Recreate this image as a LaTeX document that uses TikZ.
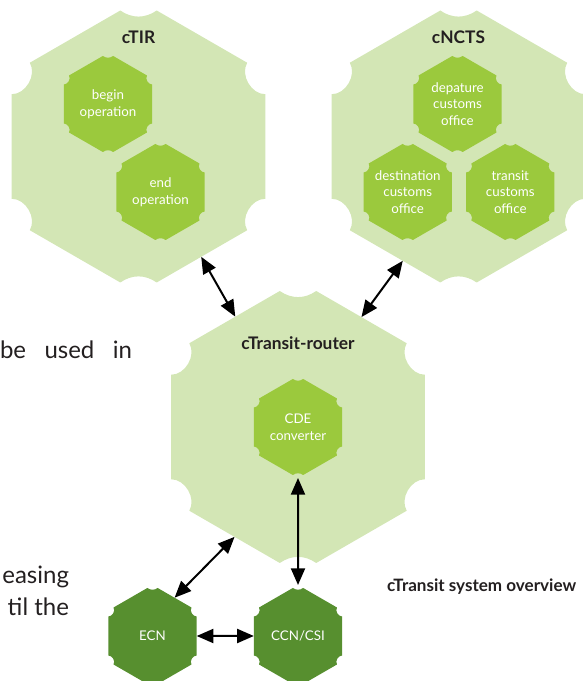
\documentclass[tikz,border=0pt]{standalone}
\usepackage{fontspec}
\setmainfont{Lato}
\usetikzlibrary{shapes.geometric, arrows.meta, calc}

\definecolor{hexlight}{HTML}{D3E6B5}
\definecolor{hexmid}{HTML}{9BC93D}
\definecolor{hexdark}{HTML}{578F2F}
\definecolor{ink}{HTML}{231F20}

\pgfdeclarelayer{background}
\pgfsetlayers{background,main}

% notched hexagon behind a node: node, radius, notch, colour, top/bottom bend
\newcommand{\hexfill}[5]{%
	\begin{pgfonlayer}{background}
		\fill[#4] ($(#1)+(30:#2)+(150:#3)$)
			\foreach \a/\b in {90/#5, 150/60, 210/60, 270/#5, 330/60, 30/60}
				{ -- ($(#1)+(\a:#2)+({\a-120}:#3)$) to[bend left = \b] ($(#1)+(\a:#2)+({\a+120}:#3)$) }
			-- cycle;
	\end{pgfonlayer}}

\begin{document}
\begin{tikzpicture}[x = 0.75pt, y = 0.75pt, every node/.style = {font = \fontsize{10}{12.5}\selectfont,
	text = white, align = center, inner sep = 0pt, outer sep = 0pt},
	bighex/.style = {regular polygon, regular polygon sides = 6, shape border rotate = 30, minimum size = 219.75pt},
	smallhex/.style = {regular polygon, regular polygon sides = 6, shape border rotate = 30, minimum size = 76.5pt},
	hextitle/.style = {font = \fontsize{13}{15}\selectfont\bfseries, text = ink},
	bodytext/.style = {font = \fontsize{18}{22}\selectfont, text = ink},
	link/.style = {{Triangle[length = 12.5pt, width = 10.5pt]}-{Triangle[length = 12.5pt, width = 10.5pt]}, line width = 1.5pt}]

	\useasboundingbox (0, 0) rectangle (582, 681);

		% systems
		\node (ctir)   at (138.5, 534.5) [bighex] {};
		\node (cncts)  at (458.5, 534.5) [bighex] {};
		\node (router) at (298,   254)   [bighex] {};

		\node (ctirtitle)   at (138.5, 644) [hextitle] {cTIR};
		\node (cnctstitle)  at (458.5, 644) [hextitle] {cNCTS};
		\node (routertitle) at (298, 337.5) [hextitle] {cTransit-router};

		% components
		\node (beginop) at (108,   577) [smallhex] {begin\\operation};
		\node (endop)   at (160.5, 489) [smallhex] {end\\operation};
		\node (depart)  at (457.5, 577) [smallhex] {depature\\customs\\office};
		\node (dest)    at (407.7, 489) [smallhex] {destination\\customs\\office};
		\node (transit) at (510.3, 489) [smallhex] {transit\\customs\\office};
		\node (cde)     at (298,   254) [smallhex] {CDE\\converter};
		\node (ecn)     at (152.5,  45) [smallhex] {ECN};
		\node (ccn)     at (298,    45) [smallhex] {CCN/CSI};

		\foreach \hex in {ctir, cncts, router}
			\hexfill{\hex}{146.5}{21}{hexlight}{35};
		\foreach \hex in {beginop, endop, depart, dest, transit, cde}
			\hexfill{\hex}{51}{6}{hexmid}{35};
		\foreach \hex in {ecn, ccn}
			\hexfill{\hex}{51}{6}{hexdark}{35};

		\foreach \from/\to in {ctir/router, cncts.244/router.60, ecn.60/router.240, ecn/ccn, cde/ccn}
			\draw[link] (\from) -- (\to);

		% text around the figure
		\node (caption) at (387, 94) [anchor = west, hextitle, font = \fontsize{12.8}{15}\selectfont\bfseries] {cTransit system overview};
		\node (bodya) at (0, 331) [anchor = west, bodytext] {\makebox[99pt][s]{be used in}};
		\node (bodyb) at (69, 104) [anchor = east, bodytext] {easing};
		\node (bodyc) at (69, 74)  [anchor = east, bodytext] {til the};

\end{tikzpicture}
\end{document}
